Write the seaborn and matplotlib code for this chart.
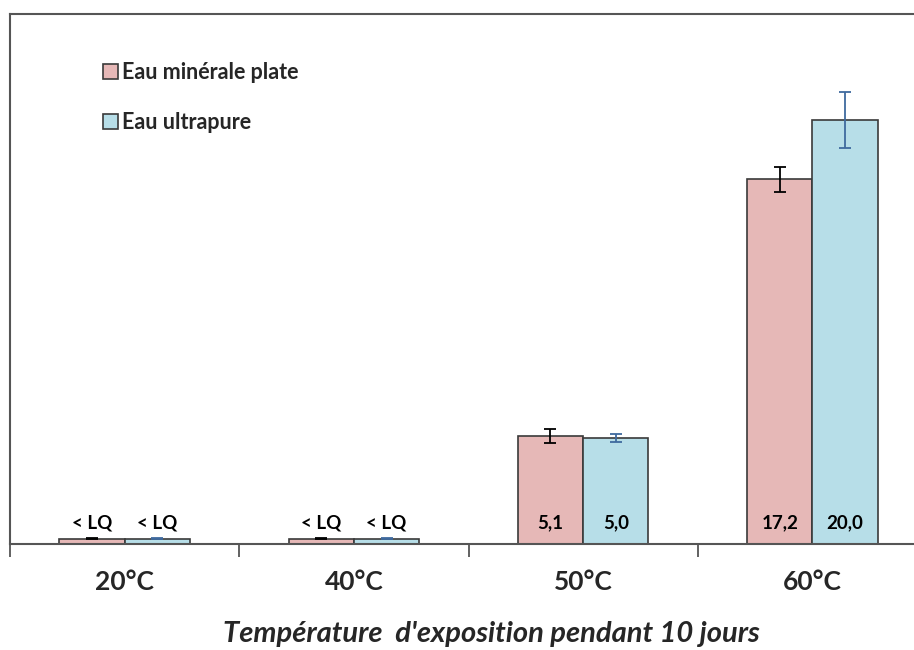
import pandas as pd
import seaborn as sns
import matplotlib.pyplot as plt
from matplotlib.patches import Patch

# ============================================================================
# DATA
# ============================================================================
categories = ["20°C", "40°C", "50°C", "60°C"]
series = ["Eau minérale plate", "Eau ultrapure"]
minerale = [0.25, 0.25, 5.1, 17.2]
ultrapure = [0.25, 0.25, 5.0, 20.0]
err_minerale = [0.03, 0.03, 0.33, 0.6]
err_ultrapure = [0.03, 0.03, 0.17, 1.3]
labels_minerale = ["< LQ", "< LQ", "5,1", "17,2"]
labels_ultrapure = ["< LQ", "< LQ", "5,0", "20,0"]

PALETTE = {"Eau minérale plate": "#E6B8B7", "Eau ultrapure": "#B7DEE8"}
ERR_COLORS = {"Eau minérale plate": "black", "Eau ultrapure": "#3F6A9E"}
EDGE = "#3A3A3A"
FRAME = "#555555"
FONT = "Lato"

df = pd.DataFrame({
    "Température": categories * 2,
    "Eau": [series[0]] * 4 + [series[1]] * 4,
    "Valeur": minerale + ultrapure,
})
errors = {series[0]: err_minerale, series[1]: err_ultrapure}
texts = {series[0]: labels_minerale, series[1]: labels_ultrapure}

# ============================================================================
# PLOT
# ============================================================================
sns.set_style("white")
plt.rcParams["font.family"] = [FONT, "DejaVu Sans"]

fig = plt.figure(figsize=(9.14, 6.5), dpi=100)
ax = fig.add_axes([10 / 914, 106 / 650, 917 / 914, 530 / 650])

sns.barplot(
    data=df, x="Température", y="Valeur", hue="Eau",
    order=categories, hue_order=series, palette=PALETTE, saturation=1,
    errorbar=None, width=0.57, edgecolor=EDGE, linewidth=1.2,
    legend=False, ax=ax,
)

for name, container in zip(series, ax.containers):
    xs = [p.get_x() + p.get_width() / 2 for p in container.patches]
    hs = [p.get_height() for p in container.patches]
    ax.errorbar(xs, hs, yerr=errors[name], fmt="none", ecolor=ERR_COLORS[name],
                elinewidth=1.3, capsize=4, capthick=1.3)
    for x, t in zip(xs, texts[name]):
        ax.text(x, 1.0, t, ha="center", va="center", fontsize=13.5,
                fontweight="bold", color="black")

ax.set_xlim(-0.5, 3.5)
ax.set_ylim(0, 25)
ax.set_yticks([])
ax.set_xlabel("")
ax.set_ylabel("")

# category labels without marks, separators as minor ticks
ax.tick_params(axis="x", which="major", length=0, pad=19, labelsize=19)
for lbl in ax.get_xticklabels():
    lbl.set_fontweight("bold")
ax.set_xticks([-0.5, 0.5, 1.5, 2.5, 3.5], minor=True)
ax.tick_params(axis="x", which="minor", direction="out", length=9,
               width=1.3, color=FRAME, bottom=True)

for side in ["left", "top", "bottom", "right"]:
    ax.spines[side].set_color(FRAME)
    ax.spines[side].set_linewidth(1.5)

handles = [Patch(facecolor=PALETTE[s], edgecolor=EDGE, linewidth=1.2, label=s)
           for s in series]
ax.legend(handles=handles, loc="upper left", bbox_to_anchor=(103 / 914, 1 - 62 / 650),
          bbox_transform=fig.transFigure, frameon=False, borderpad=0, borderaxespad=0,
          handlelength=0.7, handleheight=0.7, handletextpad=0.2,
          labelspacing=1.35, prop={"family": FONT, "weight": "bold", "size": 15.5})

fig.text(491 / 914, 1 - 634 / 650, "Température  d'exposition pendant 10 jours",
         ha="center", va="center", fontsize=21, fontweight="bold", style="italic")

fig.savefig("out.png", dpi=100)
